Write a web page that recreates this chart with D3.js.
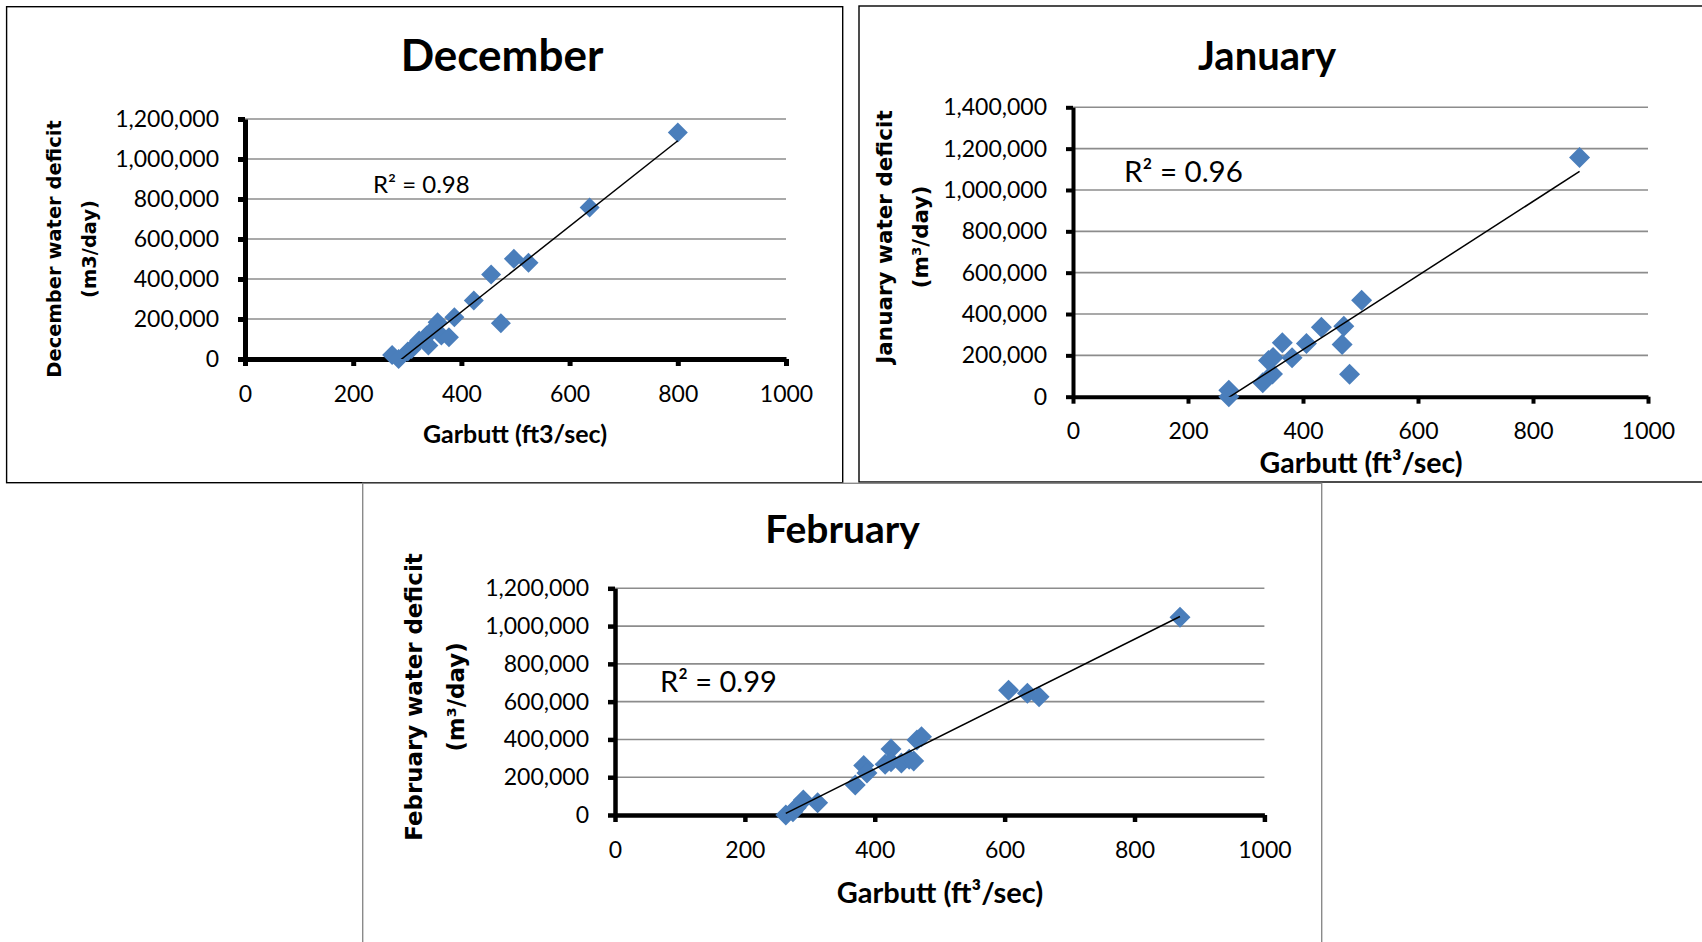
<!DOCTYPE html>
<html>
<head>
  <meta charset="UTF-8">
  <title>Water deficit vs Garbutt flow</title>
  <script src="https://cdn.jsdelivr.net/npm/d3@7/dist/d3.min.js"></script>
  <style>
    body { margin: 0; background: #fff; }
    text { font-family: Lato, "Open Sans", sans-serif; fill: #000; }
    .ytitle { font-family: "DejaVu Sans", Verdana, sans-serif; font-weight: bold; }
  </style>
</head>
<body>
  <svg id="chart" width="1702" height="942"></svg>
  <script>
  // ---------------------------------------------------
  // Data
  // ---------------------------------------------------
  const months = ["December", "January", "February"];
  const rSquared = ["0.98", "0.96", "0.99"];
  const xTicks = [0, 200, 400, 600, 800, 1000];
  const yTicksDec = [0, 200000, 400000, 600000, 800000, 1000000, 1200000];
  const yTicksJan = [0, 200000, 400000, 600000, 800000, 1000000, 1200000, 1400000];
  const yTicksFeb = [0, 200000, 400000, 600000, 800000, 1000000, 1200000];

  // Garbutt flow (ft3/sec) and water deficit (m3/day)
  const decFlow = [272, 284, 301, 308, 322, 336, 339, 346, 356, 363, 377, 387, 423, 455, 473, 497, 524, 637, 800];
  const decDeficit = [20000, 0, 38000, 50000, 92000, 117000, 67000, 142000, 184000, 117000, 109000, 209000, 292000, 423000, 179000, 501000, 481000, 757000, 1133000];

  const janFlow = [271, 271, 330, 340, 347, 348, 364, 381, 406, 432, 468, 471, 481, 502, 881];
  const janDeficit = [31000, 0, 68000, 175000, 110000, 190000, 261000, 188000, 257000, 336000, 253000, 341000, 108000, 467000, 1157000];

  const febFlow = [263, 274, 279, 290, 312, 370, 383, 388, 416, 425, 425, 441, 453, 460, 465, 472, 606, 635, 653, 870];
  const febDeficit = [0, 17000, 39000, 79000, 65000, 159000, 262000, 222000, 268000, 350000, 282000, 275000, 295000, 286000, 397000, 414000, 661000, 645000, 626000, 1047000];

  // ---------------------------------------------------
  // Layout of each panel (pixels)
  // ---------------------------------------------------
  const panels = [
    {
      name: months[0], r2: rSquared[0], flow: decFlow, deficit: decDeficit, yTicks: yTicksDec,
      yTitle: ["December water deficit", "(m3/day)"], xTitle: "Garbutt (ft3/sec)",
      box: [6.6, 6.7, 836.1, 476], boxColor: "#000",
      plot: { left: 245, right: 786, top: 119, bottom: 359 }, axisW: 5,
      title: { x: 502, y: 71, size: 44 },
      xt: { x: 515, y: 443, size: 25 },
      yt: { x1: 54, x2: 89, y: 249, size: 19.5 },
      r2pos: { x: 373, y: 193, size: 24 },
      tickSize: 23, xPad: 20, marker: 20
    },
    {
      name: months[1], r2: rSquared[1], flow: janFlow, deficit: janDeficit, yTicks: yTicksJan,
      yTitle: ["January water deficit", "(m³/day)"], xTitle: "Garbutt (ft³/sec)",
      box: [859, 6, 900, 476], boxColor: "#000",
      plot: { left: 1073, right: 1648, top: 107.3, bottom: 396.7 }, axisW: 4,
      title: { x: 1267, y: 70, size: 40 },
      xt: { x: 1361, y: 473, size: 28.5 },
      yt: { x1: 884, x2: 920, y: 237, size: 21.5 },
      r2pos: { x: 1124, y: 182, size: 29.5 },
      tickSize: 23, xPad: 19, marker: 21
    },
    {
      name: months[2], r2: rSquared[2], flow: febFlow, deficit: febDeficit, yTicks: yTicksFeb,
      yTitle: ["February water deficit", "(m³/day)"], xTitle: "Garbutt (ft³/sec)",
      box: [362.7, 483.3, 959, 500], boxColor: "#8a8a8a",
      plot: { left: 615, right: 1264.4, top: 588.3, bottom: 815 }, axisW: 4.5,
      title: { x: 842.5, y: 543, size: 39 },
      xt: { x: 940, y: 903, size: 29 },
      yt: { x1: 414, x2: 456, y: 697, size: 22.9 },
      r2pos: { x: 660, y: 692, size: 29 },
      tickSize: 23, xPad: 20, marker: 21
    }
  ];

  const svg = d3.select("#chart");

  // least squares line
  function linFit(xs, ys) {
    const mx = d3.mean(xs), my = d3.mean(ys);
    let sxy = 0, sxx = 0;
    xs.forEach(function (x, i) {
      sxy += (x - mx) * (ys[i] - my);
      sxx += (x - mx) * (x - mx);
    });
    const slope = sxy / sxx;
    return { slope: slope, intercept: my - slope * mx };
  }

  function drawPanel(p, idx) {
    const g = svg.append("g");

    g.append("rect")
      .attr("x", p.box[0]).attr("y", p.box[1])
      .attr("width", p.box[2]).attr("height", p.box[3])
      .attr("fill", "none")
      .attr("stroke", p.boxColor)
      .attr("stroke-width", 1.4);

    const x = d3.scaleLinear().domain([0, 1000]).range([p.plot.left, p.plot.right]);
    const y = d3.scaleLinear().domain([0, d3.max(p.yTicks)]).range([p.plot.bottom, p.plot.top]);

    // gridlines
    g.append("g")
      .selectAll("line")
      .data(p.yTicks.slice(1))
      .enter().append("line")
      .attr("x1", x(0)).attr("x2", x(1000))
      .attr("y1", function (d) { return y(d); })
      .attr("y2", function (d) { return y(d); })
      .attr("stroke", "#8c8c8c")
      .attr("stroke-width", 1.6);

    // axes
    const yAxis = d3.axisLeft(y).tickValues(p.yTicks).tickSize(7).tickSizeOuter(0)
      .tickPadding(19).tickFormat(d3.format(","));
    const xAxis = d3.axisBottom(x).tickValues(xTicks).tickSize(7).tickSizeOuter(0)
      .tickPadding(p.xPad).tickFormat(d3.format("d"));

    const ya = g.append("g").attr("transform", "translate(" + x(0) + ",0)").call(yAxis);
    const xa = g.append("g").attr("transform", "translate(0," + y(0) + ")").call(xAxis);

    [ya, xa].forEach(function (a) {
      a.select(".domain").attr("stroke", "#000").attr("stroke-width", p.axisW);
      a.selectAll(".tick line").attr("stroke", "#000").attr("stroke-width", p.axisW);
      a.selectAll(".tick text")
        .attr("fill", "#000")
        .style("font-family", "Lato, sans-serif")
        .style("font-size", p.tickSize + "px");
    });

    // markers
    const diamond = d3.symbol().type(d3.symbolSquare).size(p.marker * p.marker / 2);
    g.append("g")
      .selectAll("path")
      .data(p.flow.map(function (f, i) { return [f, p.deficit[i]]; }))
      .enter().append("path")
      .attr("d", diamond)
      .attr("transform", function (d) {
        return "translate(" + x(d[0]) + "," + y(d[1]) + ") rotate(45)";
      })
      .attr("fill", "#4a7ebb");

    // trendline, clipped to plot area
    const clipId = "clip" + idx;
    g.append("clipPath").attr("id", clipId)
      .append("rect")
      .attr("x", p.plot.left).attr("y", p.plot.top)
      .attr("width", p.plot.right - p.plot.left)
      .attr("height", p.plot.bottom - p.plot.top);

    const fit = linFit(p.flow, p.deficit);
    const ends = d3.extent(p.flow);
    g.append("line")
      .attr("clip-path", "url(#" + clipId + ")")
      .attr("x1", x(ends[0])).attr("y1", y(fit.intercept + fit.slope * ends[0]))
      .attr("x2", x(ends[1])).attr("y2", y(fit.intercept + fit.slope * ends[1]))
      .attr("stroke", "#000")
      .attr("stroke-width", 1.5);

    // texts
    g.append("text")
      .attr("x", p.title.x).attr("y", p.title.y)
      .attr("text-anchor", "middle")
      .style("font-weight", "bold")
      .style("font-size", p.title.size + "px")
      .text(p.name);

    g.append("text")
      .attr("x", p.xt.x).attr("y", p.xt.y)
      .attr("text-anchor", "middle")
      .style("font-weight", "bold")
      .style("font-size", p.xt.size + "px")
      .text(p.xTitle);

    [p.yt.x1, p.yt.x2].forEach(function (cx, i) {
      g.append("text")
        .attr("class", "ytitle")
        .attr("transform", "translate(" + cx + "," + p.yt.y + ") rotate(-90)")
        .attr("text-anchor", "middle")
        .attr("dy", "0.36em")
        .style("font-size", p.yt.size + "px")
        .text(p.yTitle[i]);
    });

    g.append("text")
      .attr("x", p.r2pos.x).attr("y", p.r2pos.y)
      .style("font-size", p.r2pos.size + "px")
      .text("R² = " + p.r2);
  }

  panels.forEach(drawPanel);
  </script>
</body>
</html>
